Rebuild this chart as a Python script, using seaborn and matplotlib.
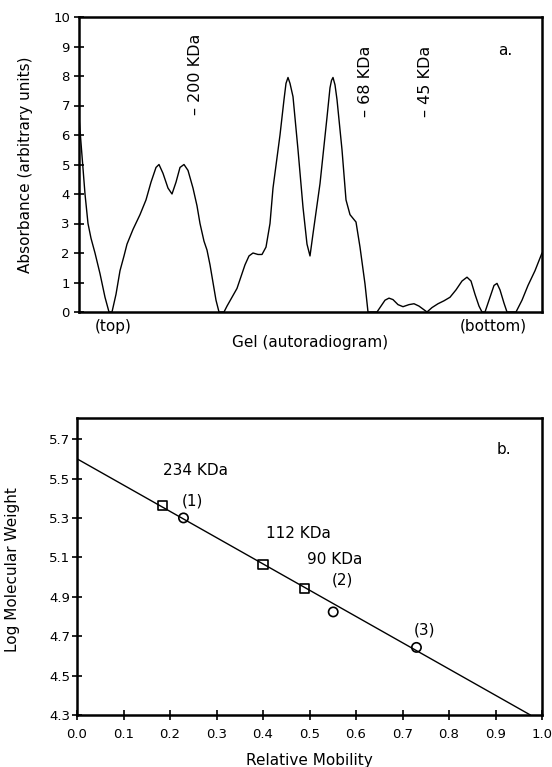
import matplotlib
matplotlib.use("Agg")
import matplotlib.pyplot as plt
import seaborn as sns
import numpy as np
import pandas as pd

sns.set_style("ticks")
plt.rcParams['font.family'] = ['DejaVu Sans']
for k in ['text.color', 'axes.labelcolor', 'xtick.color', 'ytick.color']:
    plt.rcParams[k] = 'black'

# ---------- Panel a: densitometric trace (gel position, top -> bottom, arbitrary units) ----------
gel_pos = [0, 3, 6, 9, 12, 16, 21, 26, 30, 33,
           37, 41, 45, 48, 54, 61, 67, 72, 77, 80,
           84, 89, 93, 97, 101, 105, 109, 114, 118, 121,
           125, 128, 131, 134, 137, 140, 145, 148, 153, 158,
           162, 166, 170, 174, 179, 183, 187, 191, 194, 201,
           205, 207, 209, 211, 214, 219, 224, 228, 231, 234,
           241, 248, 251, 252.5, 254, 256, 258, 263, 267, 271,
           277, 281, 286, 289, 298, 302, 306, 310, 314, 319,
           324, 330, 335, 340, 346, 348, 353, 359, 365, 371,
           377, 383, 388, 392, 396, 400, 403, 406, 410, 415,
           418, 421, 425, 428, 437, 443, 449, 456, 463]
absorbance = [6.6, 5.3, 4.0, 3.0, 2.5, 2.0, 1.3, 0.5, 0.0, 0.0,
              0.6, 1.4, 1.9, 2.3, 2.8, 3.3, 3.8, 4.4, 4.9, 5.0,
              4.7, 4.2, 4.0, 4.4, 4.9, 5.0, 4.8, 4.2, 3.6, 3.0,
              2.4, 2.1, 1.6, 1.0, 0.4, 0.0, 0.0, 0.2, 0.5, 0.8,
              1.2, 1.6, 1.9, 2.0, 1.95, 1.95, 2.2, 3.0, 4.2, 6.0,
              7.2, 7.75, 7.95, 7.75, 7.3, 5.5, 3.55, 2.3, 1.9, 2.65,
              4.35, 6.6, 7.6, 7.85, 7.95, 7.7, 7.2, 5.5, 3.8, 3.3,
              3.05, 2.2, 0.95, 0.0, 0.0, 0.2, 0.4, 0.47, 0.42, 0.25,
              0.18, 0.25, 0.28, 0.2, 0.05, 0.0, 0.15, 0.28, 0.38, 0.5,
              0.75, 1.05, 1.18, 1.05, 0.6, 0.2, 0.0, 0.0, 0.4, 0.9,
              0.97, 0.75, 0.3, 0.0, 0.0, 0.4, 0.9, 1.4, 2.0]

marker_labels = ["– 200 KDa", "– 68 KDa", "– 45 KDa"]
marker_pos = [116, 286, 346]
marker_base = [6.68, 6.6, 6.6]

gel_tick_pos = [34, 414]
gel_tick_labels = ["(top)", "(bottom)"]

# ---------- Panel b: calibration ----------
std_mobility = [0.183, 0.40, 0.49]
std_logmw = [5.361, 5.062, 4.94]
std_labels = ["234 KDa", "112 KDa", "90 KDa"]

sample_mobility = [0.229, 0.551, 0.730]
sample_logmw = [5.30, 4.823, 4.643]
sample_labels = ["(1)", "(2)", "(3)"]

fit_x = [0.0, 0.975]
fit_y = [5.60, 4.30]

dfa = pd.DataFrame({"pos": gel_pos, "abs": absorbance})

fig = plt.figure(figsize=(5.52, 7.67), dpi=100)
ax1 = fig.add_axes([79/552, 1 - 312/767, 463/552, 295/767])
ax2 = fig.add_axes([77/552, 1 - 715/767, 465/552, 297/767])

TXT = 11

# Panel a
sns.lineplot(data=dfa, x="pos", y="abs", ax=ax1, color="black", lw=1.0, sort=False,
             estimator=None)
ax1.set_xlim(0, 463)
ax1.set_ylim(0, 10)
ax1.set_yticks(range(0, 11))
ax1.set_xticks(gel_tick_pos)
ax1.set_xticklabels(gel_tick_labels, fontsize=TXT)
ax1.tick_params(axis='x', length=0, pad=5)
ax1.tick_params(axis='y', direction='inout', length=7, width=1.2, labelsize=9.5, pad=3)
ax1.set_xlabel("Gel (autoradiogram)", fontsize=TXT)
ax1.set_ylabel("Absorbance (arbitrary units)", fontsize=TXT)
ax1.xaxis.set_label_coords(0.5, -0.078)
ax1.yaxis.set_label_coords(-0.10, 0.5)
for lab, p, b in zip(marker_labels, marker_pos, marker_base):
    ax1.text(p, b, lab, rotation=90, ha='center', va='bottom', fontsize=11.5)
ax1.text(426, 8.86, "a.", ha='center', va='center', fontsize=TXT)

# Panel b
sns.lineplot(x=fit_x, y=fit_y, ax=ax2, color="black", lw=1.0)
sns.scatterplot(x=std_mobility, y=std_logmw, ax=ax2, marker='s', s=42,
                facecolor='none', edgecolor='black', linewidth=1.2, zorder=3)
sns.scatterplot(x=sample_mobility, y=sample_logmw, ax=ax2, marker='o', s=45,
                facecolor='none', edgecolor='black', linewidth=1.2, zorder=3)
ax2.set_xlim(0, 1.0)
ax2.set_ylim(4.3, 5.807)
xt = [0.0, 0.1, 0.2, 0.3, 0.4, 0.5, 0.6, 0.7, 0.8, 0.9, 1.0]
ax2.set_xticks(xt)
ax2.set_xticklabels([f"{v:.1f}" for v in xt])
yt = [4.3, 4.5, 4.7, 4.9, 5.1, 5.3, 5.5, 5.7]
ax2.set_yticks(yt)
ax2.set_yticklabels([f"{v:.1f}" for v in yt])
ax2.tick_params(axis='x', direction='inout', length=7, width=1.2, labelsize=9.5, pad=6)
ax2.tick_params(axis='y', direction='inout', length=7, width=1.2, labelsize=9.5, pad=1.5)
ax2.set_xlabel("Relative Mobility", fontsize=TXT)
ax2.set_ylabel("Log Molecular Weight", fontsize=TXT)
ax2.xaxis.set_label_coords(0.5, -0.128)
ax2.yaxis.set_label_coords(-0.123, 0.49)

std_text_pos = [(0.185, 5.539), (0.406, 5.223), (0.494, 5.09)]
for lab, (tx, ty) in zip(std_labels, std_text_pos):
    ax2.text(tx, ty, lab, ha='left', va='center', fontsize=TXT)
samp_text_pos = [(0.249, 5.387), (0.570, 4.985), (0.748, 4.73)]
for lab, (tx, ty) in zip(sample_labels, samp_text_pos):
    ax2.text(tx, ty, lab, ha='center', va='center', fontsize=TXT)
ax2.text(0.918, 5.645, "b.", ha='center', va='center', fontsize=TXT)

for ax in (ax1, ax2):
    for sp in ax.spines.values():
        sp.set_visible(True)
        sp.set_linewidth(1.8)
        sp.set_color("black")

fig.savefig("out.png", dpi=100)
